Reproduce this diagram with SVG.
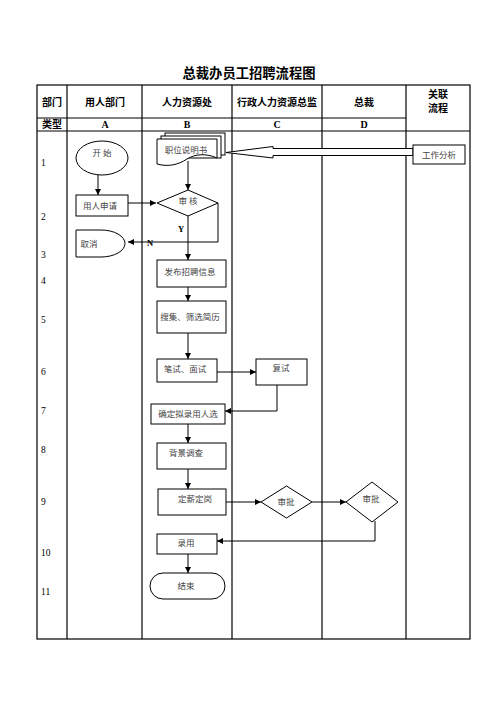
<svg xmlns="http://www.w3.org/2000/svg" width="496" height="702" viewBox="0 0 496 702">
<defs>
<marker id="ah" viewBox="0 0 10 10" refX="10" refY="5" markerWidth="6" markerHeight="6" markerUnits="userSpaceOnUse" orient="auto">
<path d="M0,0 L10,5 L0,10 Z" fill="#000"/>
</marker>
</defs>
<style>
.grid{stroke:#000;stroke-width:1.2;fill:none}
.hd{font-family:"Noto Sans CJK SC","Liberation Sans",sans-serif;font-weight:bold;font-size:10px;fill:#000;text-anchor:middle}
.lt{font-family:"Liberation Serif",serif;font-weight:bold;font-size:10px;fill:#000;text-anchor:middle}
.num{font-family:"Liberation Serif",serif;font-size:9.5px;fill:#000}
.shape{fill:#fff;stroke:#000;stroke-width:1}
.tx{font-family:"Noto Sans CJK SC","Liberation Sans",sans-serif;font-size:8.5px;fill:#444;text-anchor:middle}
.lab{font-family:"Liberation Serif",serif;font-weight:bold;font-size:8.5px;fill:#000;text-anchor:middle}
.conn{fill:none;stroke:#000;stroke-width:1}
</style>
<rect width="496" height="702" fill="#fff"/>
<text x="249" y="78" font-family="Noto Sans CJK SC, sans-serif" font-weight="bold" font-size="13.3" text-anchor="middle">总裁办员工招聘流程图</text>
<g id="table">
<rect class="grid" x="37" y="85" width="433" height="554"/>
<line class="grid" x1="37" y1="118" x2="406" y2="118"/>
<line class="grid" x1="37" y1="131" x2="470" y2="131"/>
<line class="grid" x1="67" y1="85" x2="67" y2="639"/>
<line class="grid" x1="142" y1="85" x2="142" y2="639"/>
<line class="grid" x1="232" y1="85" x2="232" y2="639"/>
<line class="grid" x1="322" y1="85" x2="322" y2="639"/>
<line class="grid" x1="406" y1="85" x2="406" y2="639"/>
<text class="hd" x="52" y="106">部门</text>
<text class="hd" x="105" y="106">用人部门</text>
<text class="hd" x="187" y="106">人力资源处</text>
<text class="hd" x="277" y="106">行政人力资源总监</text>
<text class="hd" x="364" y="106">总裁</text>
<text class="hd" x="438" y="98">关联</text>
<text class="hd" x="438" y="112">流程</text>
<text class="hd" x="52" y="128">类型</text>
<text class="lt" x="105" y="128">A</text>
<text class="lt" x="187" y="128">B</text>
<text class="lt" x="277" y="128">C</text>
<text class="lt" x="364" y="128">D</text>
<text class="num" x="41" y="166">1</text>
<text class="num" x="41" y="220">2</text>
<text class="num" x="41" y="258">3</text>
<text class="num" x="41" y="284">4</text>
<text class="num" x="41" y="323">5</text>
<text class="num" x="41" y="375">6</text>
<text class="num" x="41" y="414">7</text>
<text class="num" x="41" y="453">8</text>
<text class="num" x="41" y="505">9</text>
<text class="num" x="41" y="556">10</text>
<text class="num" x="41" y="595">11</text>
</g>
<g id="connectors">
<line class="conn" x1="98" y1="175" x2="98" y2="195" marker-end="url(#ah)"/>
<line class="conn" x1="128" y1="203" x2="156" y2="203" marker-end="url(#ah)"/>
<line class="conn" x1="188" y1="161" x2="188" y2="190" marker-end="url(#ah)"/>
<line class="conn" x1="188" y1="216" x2="188" y2="260" marker-end="url(#ah)"/>
<polyline class="conn" points="218,203 218,242 128,242" marker-end="url(#ah)"/>
<line class="conn" x1="188" y1="287" x2="188" y2="301" marker-end="url(#ah)"/>
<line class="conn" x1="188" y1="333" x2="188" y2="359" marker-end="url(#ah)"/>
<line class="conn" x1="217" y1="372" x2="256" y2="372" marker-end="url(#ah)"/>
<polyline class="conn" points="277,385 277,411 225,411" marker-end="url(#ah)"/>
<line class="conn" x1="188" y1="424" x2="188" y2="443" marker-end="url(#ah)"/>
<line class="conn" x1="188" y1="469" x2="188" y2="489" marker-end="url(#ah)"/>
<line class="conn" x1="226" y1="502" x2="261" y2="502" marker-end="url(#ah)"/>
<line class="conn" x1="312" y1="502" x2="346" y2="502" marker-end="url(#ah)"/>
<polyline class="conn" points="375,521 375,541 217,541" marker-end="url(#ah)"/>
<line class="conn" x1="188" y1="554" x2="188" y2="573" marker-end="url(#ah)"/>
<polygon class="shape" points="226,152.5 273,146.5 273,148.5 413,148.5 413,155.5 273,155.5 273,158"/>
<text class="lab" x="181" y="232">Y</text>
<text class="lab" x="150" y="246">N</text>
</g>
<g id="start">
<ellipse class="shape" cx="102" cy="158" rx="26" ry="17"/>
<text class="tx" x="102" y="156">开 始</text>
</g>
<g id="apply">
<rect class="shape" x="76" y="195" width="52" height="21"/>
<text class="tx" x="100" y="209">用人申请</text>
</g>
<g id="cancel">
<path class="shape" d="M76,230 H101 A24,13.5 0 0 1 101,257 H76 Z"/>
<text class="tx" x="89" y="247">取消</text>
</g>
<g id="jobdesc">
<rect class="shape" x="165" y="133" width="60" height="22"/>
<rect class="shape" x="161" y="136" width="60" height="22"/>
<path class="shape" d="M157,139 H217 V158 C206,153 195,154 187,159 C178,165 168,167 157,164 Z"/>
<text class="tx" x="186" y="153">职位说明书</text>
</g>
<g id="jobanalysis">
<rect class="shape" x="413" y="145" width="52" height="19"/>
<text class="tx" x="439" y="158">工作分析</text>
</g>
<g id="review">
<polygon class="shape" points="157,203 188,190 218,203 188,216"/>
<text class="tx" x="188" y="204">审 核</text>
</g>
<g id="publish">
<rect class="shape" x="157" y="260" width="69" height="27"/>
<text class="tx" x="190" y="275">发布招聘信息</text>
</g>
<g id="screen">
<rect class="shape" x="157" y="301" width="69" height="32"/>
<text class="tx" x="190" y="320">搜集、筛选简历</text>
</g>
<g id="exam">
<rect class="shape" x="157" y="359" width="60" height="23"/>
<text class="tx" x="185" y="372">笔试、面试</text>
</g>
<g id="retest">
<rect class="shape" x="256" y="359" width="51" height="26"/>
<text class="tx" x="281" y="371">复试</text>
</g>
<g id="confirm">
<rect class="shape" x="151" y="404" width="74" height="20"/>
<text class="tx" x="188" y="417">确定拟录用人选</text>
</g>
<g id="background">
<rect class="shape" x="157" y="443" width="69" height="26"/>
<text class="tx" x="186" y="456">背景调查</text>
</g>
<g id="salary">
<rect class="shape" x="158" y="489" width="68" height="26"/>
<text class="tx" x="195" y="502">定薪定岗</text>
</g>
<g id="approve1">
<polygon class="shape" points="261,502 286.5,486 312,502 286.5,518"/>
<text class="tx" x="286" y="505">审批</text>
</g>
<g id="approve2">
<polygon class="shape" points="346,502 372,482 398,502 372,522"/>
<text class="tx" x="371" y="502">审批</text>
</g>
<g id="hire">
<rect class="shape" x="157" y="534" width="60" height="20"/>
<text class="tx" x="186" y="546">录用</text>
</g>
<g id="end">
<rect class="shape" x="150" y="573" width="75" height="26" rx="13" ry="13"/>
<text class="tx" x="186" y="589">结束</text>
</g>
</svg>
